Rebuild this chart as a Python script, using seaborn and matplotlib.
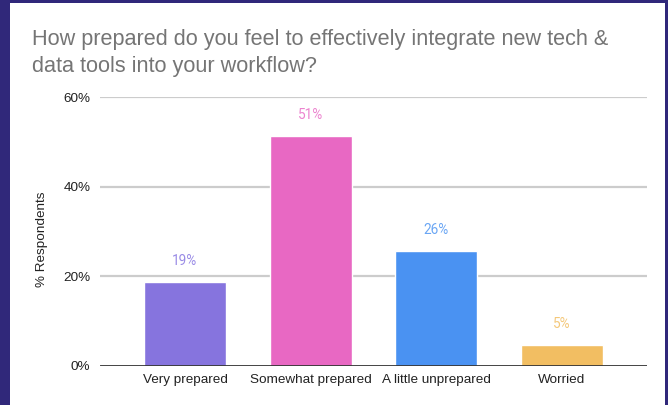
import numpy as np
import pandas as pd
from matplotlib import pyplot as plt
from matplotlib.patches import Rectangle
import seaborn as sns

# datos
categorias = ["Very prepared", "Somewhat prepared", "A little unprepared", "Worried"]
valores = [18.7, 51.3, 25.6, 4.7]
etiquetas = ["19%", "51%", "26%", "5%"]
colores = ["#8674DE", "#E868C3", "#4A92F2", "#F2BE62"]
colores_txt = ["#9A8CE6", "#EC84CF", "#6AA6F4", "#F4C87A"]
yticks = [0, 20, 40, 60]

df = pd.DataFrame({"categoria": categorias, "valor": valores})

sns.set_style("white")
plt.rcParams["font.family"] = ["Liberation Sans", "DejaVu Sans"]

fig = plt.figure(figsize=(6.68, 4.05), dpi=100)
fig.patch.set_facecolor("#30287A")
# panel blanco
fig.patches.append(Rectangle((10 / 668, 0), 655 / 668, 402 / 405,
                             transform=fig.transFigure, facecolor="white",
                             edgecolor="none", zorder=-10))

ax = fig.add_axes([100 / 668, 39 / 405, 547 / 668, 269 / 405])
ax.set_facecolor("none")
ax.set_zorder(5)

sns.barplot(data=df, x="categoria", y="valor", hue="categoria",
            palette=colores, saturation=1, legend=False, width=0.65,
            ax=ax, zorder=3)

for i, (v, t) in enumerate(zip(valores, etiquetas)):
    ax.text(i, v + 4.7, t, ha="center", va="center", fontsize=9.8,
            color=colores_txt[i], family="Roboto")

ax.set_ylim(0, 60)
ax.set_xlim(-0.676, 3.676)
ax.set_yticks(yticks)
ax.set_yticklabels([f"{y}%" for y in yticks])
for y in yticks[1:]:
    ax.axhline(y, color="#CCCCCC", lw=1.6, zorder=1)
ax.axhline(0, color="#333333", lw=2, zorder=4)

for s in ax.spines.values():
    s.set_visible(False)
ax.tick_params(axis="both", length=0, labelsize=9.7, colors="#222222")
ax.tick_params(axis="y", pad=7)
ax.tick_params(axis="x", pad=6)
ax.set_xlabel("")
ax.set_ylabel("")
fig.text(42 / 668, 1 - 239 / 405, "% Respondents", rotation=90, ha="center",
         va="center", fontsize=9.7, color="#222222")

fig.text(32 / 668, 1 - 29 / 405,
         "How prepared do you feel to effectively integrate new tech &\ndata tools into your workflow?",
         ha="left", va="top", fontsize=15.6, color="#757575", linespacing=1.35)

fig.savefig("out.png", dpi=100, facecolor=fig.get_facecolor())
